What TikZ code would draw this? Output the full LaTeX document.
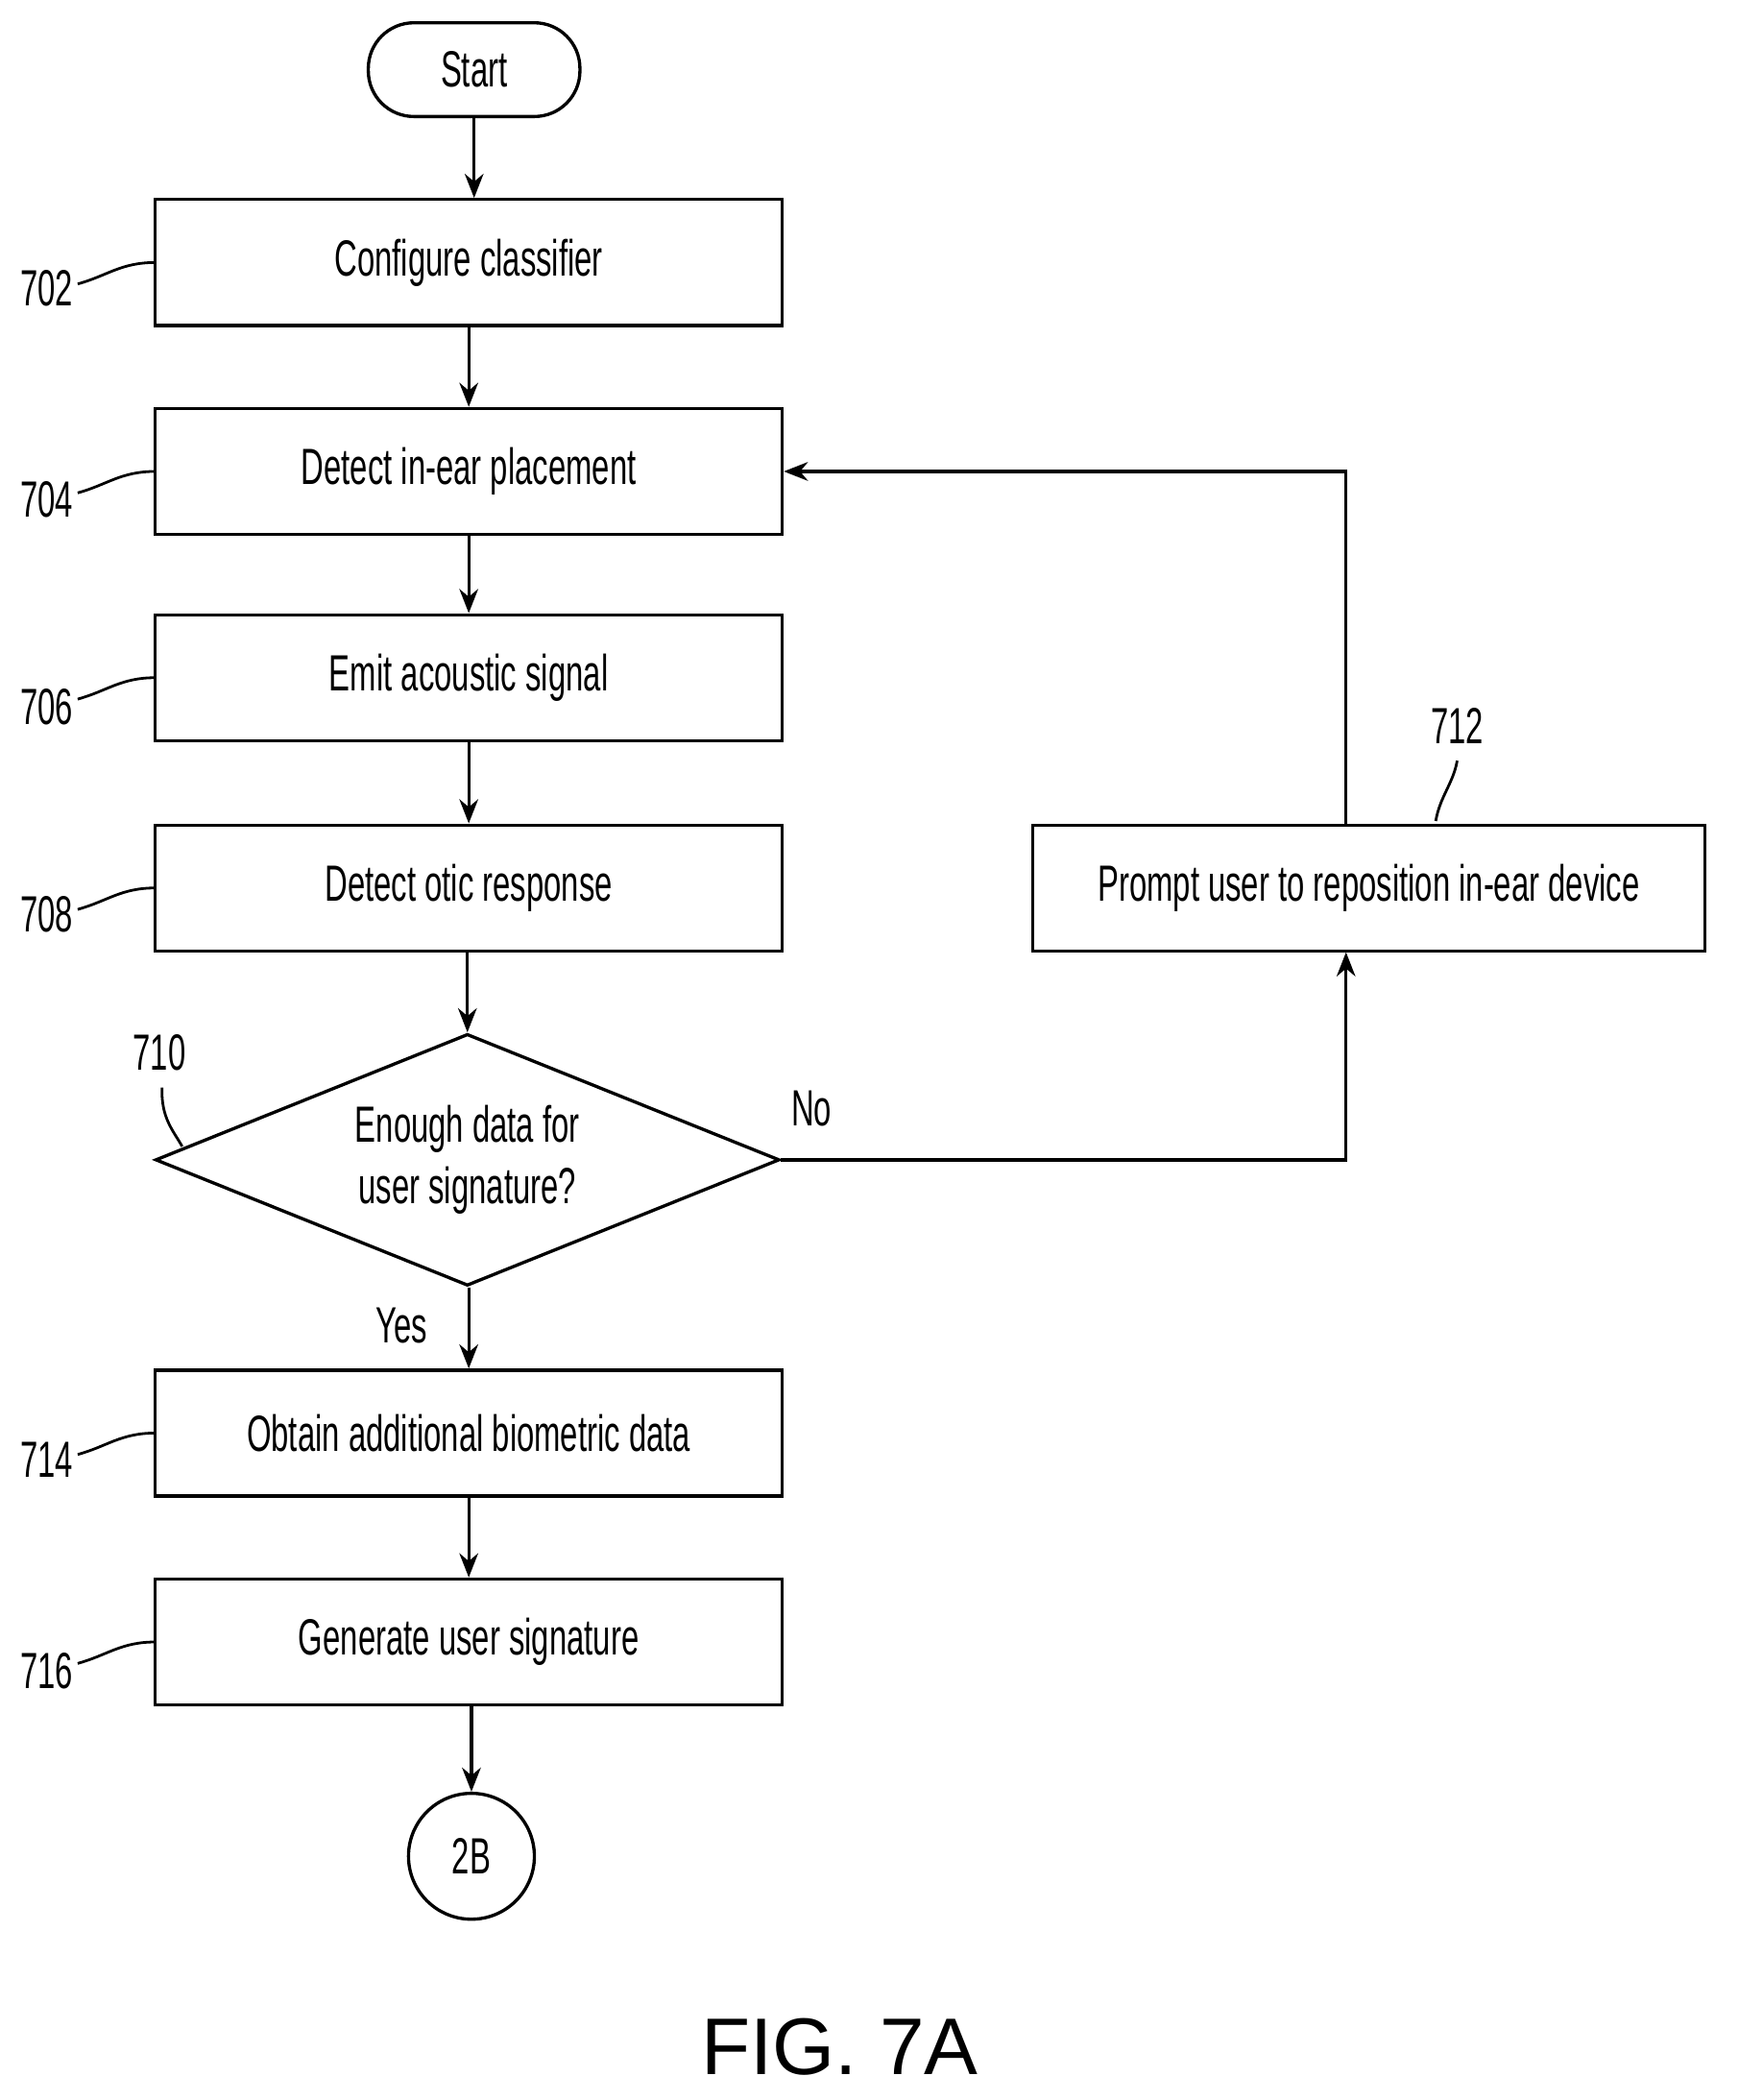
\documentclass[tikz,border=0pt]{standalone}
\usepackage{fontspec}
\setmainfont{Liberation Sans}[FakeStretch=0.62]
\newfontfamily\figfont{Liberation Sans}
\usetikzlibrary{shapes.geometric,arrows.meta}
\begin{document}
\begin{tikzpicture}[x=0.5pt,y=-0.5pt
,stepbox/.style={draw,line width=1.2pt,minimum width=234pt,minimum height=47pt,font=\fontsize{19}{22}\selectfont}
,termbox/.style={draw,line width=1.2pt,rounded corners=17pt,minimum width=79pt,minimum height=35pt,font=\fontsize{19}{22}\selectfont}
,decbox/.style={draw,diamond,aspect=2.48,line width=1.2pt,inner sep=0pt,minimum width=233pt,minimum height=94pt,align=center,font=\fontsize{19}{23}\selectfont}
,conbox/.style={draw,circle,line width=1.2pt,minimum size=47pt,font=\fontsize{19}{22}\selectfont}
,refnum/.style={font=\fontsize{19}{22}\selectfont}
,flow/.style={line width=1.2pt,-{Stealth[length=9pt,width=7pt]}}
,lead/.style={line width=1pt}
]
\useasboundingbox (0,0) rectangle (1298,1568);
% steps
\node[termbox] (start) at (354,52) {Start};
\node[stepbox] (s702) at (350,196) {Configure classifier};
\node[stepbox] (s704) at (350,352) {Detect in-ear placement};
\node[stepbox] (s706) at (350,506) {Emit acoustic signal};
\node[stepbox] (s708) at (350,663) {Detect otic response};
\node[decbox] (s710) at (349,866) {Enough data for\\user signature?};
\node[stepbox] (s714) at (350,1070) {Obtain additional biometric data};
\node[stepbox] (s716) at (350,1226) {Generate user signature};
\node[conbox] (c2b) at (352,1386) {2B};
\node[stepbox,minimum width=251pt] (s712) at (1022,663) {Prompt user to reposition in-ear device};
% flow
\draw[flow] (start) -- (start|-s702.north);
\draw[flow] (s702) -- (s704);
\draw[flow] (s704) -- (s706);
\draw[flow] (s706) -- (s708);
\draw[flow] (s708.south-|s710) -- (s710.north);
\draw[flow] (s710.south-|s714) -- (s714.north);
\draw[flow] (s714) -- (s716);
\draw[flow] (s716.south-|c2b) -- (c2b);
\draw[flow] (s710.east) -| (1005,711);
\draw[flow] (1005,615) |- (s704.east);
\node[refnum] (lno) at (606,828) {No};
\node[refnum] (lyes) at (300,990) {Yes};
% reference numerals
\foreach \n/\y in {702/215,704/373,706/528,708/683,714/1090,716/1248}
  \node[refnum] (r\n) at (35,\y) {\n};
\foreach \n/\y in {702/196,704/352,706/506,708/663,714/1070,716/1226}
  \draw[lead] (58,\y+16) .. controls (80,\y+10) and (90,\y) .. (116,\y);
\node[refnum] (r710) at (119,786) {710};
\draw[lead] (121,812) .. controls (120,835) and (130,845) .. (136,856);
\node[refnum] (r712) at (1088,542) {712};
\draw[lead] (1072,613) .. controls (1075,595) and (1085,585) .. (1088,568);
\node[font=\figfont\fontsize{30}{34}\selectfont] (fig) at (627,1528) {FIG. 7A};
\end{tikzpicture}
\end{document}
